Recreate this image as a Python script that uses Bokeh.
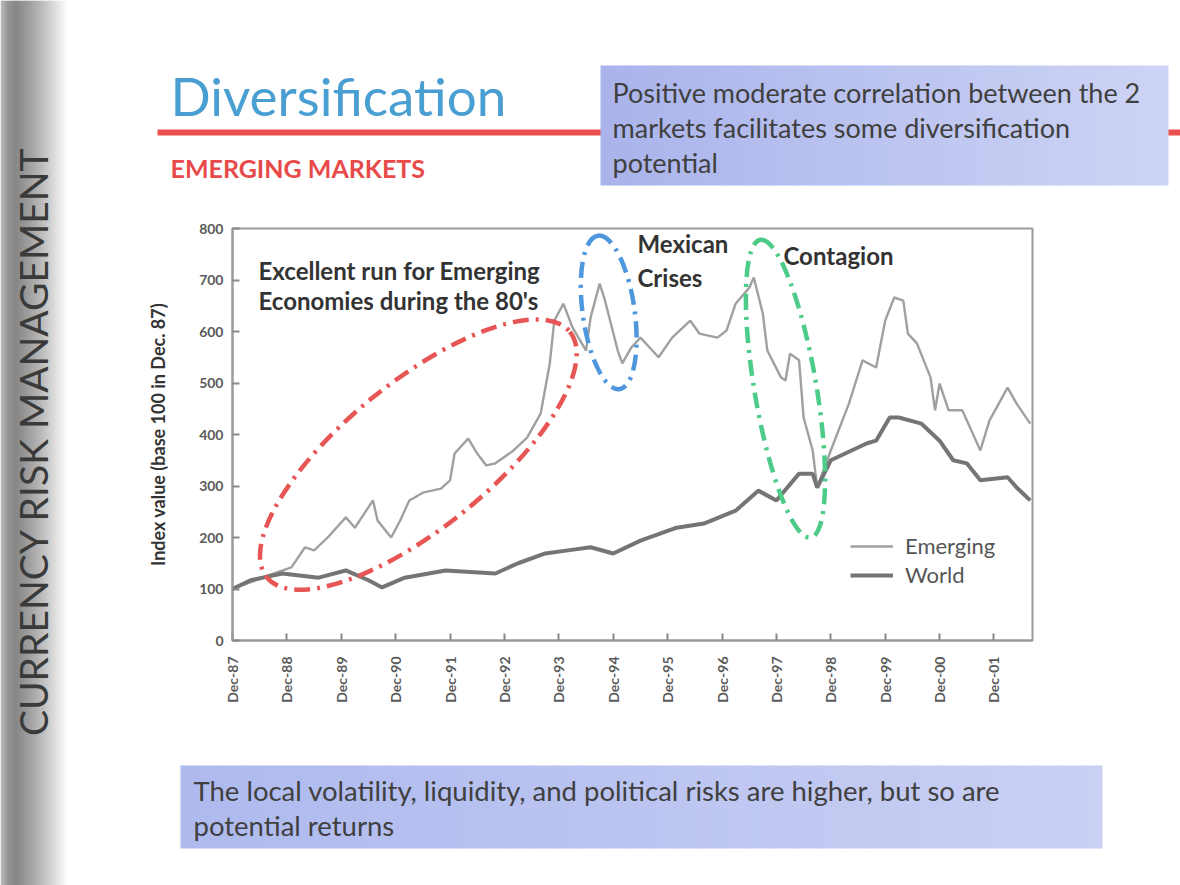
import math
from bokeh.plotting import figure
from bokeh.models import (Label, FixedTicker, Legend, LegendItem, Range1d, ColumnDataSource)
from bokeh.layouts import row, column
from bokeh.embed import file_html
from bokeh.resources import INLINE

# ---------------- data ----------------
emerging_dates = ["1987-12", "1988-09", "1989-01", "1989-04", "1989-06", "1989-09",
                  "1990-01", "1990-03", "1990-07", "1990-08", "1990-11", "1991-01",
                  "1991-03", "1991-06", "1991-10", "1991-12", "1992-01", "1992-04",
                  "1992-06", "1992-08", "1992-10", "1993-02", "1993-05", "1993-08",
                  "1993-10", "1993-11", "1994-01", "1994-03", "1994-06", "1994-07",
                  "1994-09", "1994-10", "1995-01", "1995-02", "1995-04", "1995-06",
                  "1995-10", "1996-01", "1996-05", "1996-07", "1996-11", "1997-01",
                  "1997-03", "1997-06", "1997-07", "1997-09", "1997-10", "1998-01",
                  "1998-02", "1998-03", "1998-05", "1998-06", "1998-08", "1998-09",
                  "1998-12", "1999-04", "1999-07", "1999-10", "1999-12", "2000-02",
                  "2000-04", "2000-05", "2000-07", "2000-10", "2000-11", "2000-12",
                  "2001-02", "2001-05", "2001-09", "2001-11", "2002-03", "2002-05",
                  "2002-08"]
emerging_values = [100, 130, 142, 181, 175, 200,
                   239, 219, 272, 233, 200, 233,
                   272, 287, 295, 311, 363, 392,
                   363, 340, 344, 369, 394, 441,
                   538, 621, 654, 608, 563, 627,
                   693, 666, 563, 538, 569, 588,
                   550, 588, 621, 596, 588, 602,
                   654, 685, 705, 635, 563, 511,
                   505, 557, 544, 433, 369, 297,
                   369, 460, 544, 530, 621, 666,
                   660, 596, 577, 511, 447, 499,
                   447, 447, 369, 427, 491, 460,
                   421]

world_dates = ["1987-12", "1988-04", "1988-11", "1989-07", "1990-01", "1990-06",
               "1990-09", "1991-02", "1991-11", "1992-10", "1993-03", "1993-09",
               "1994-02", "1994-07", "1994-12", "1995-06", "1996-02", "1996-08",
               "1997-03", "1997-08", "1997-12", "1998-05", "1998-08", "1998-09",
               "1998-12", "1999-08", "1999-10", "2000-01", "2000-03", "2000-08",
               "2000-12", "2001-03", "2001-06", "2001-09", "2002-03", "2002-05",
               "2002-08"]
world_values = [100, 117, 130, 122, 136, 117,
                103, 122, 136, 130, 150, 169,
                175, 181, 169, 194, 219, 227,
                252, 291, 272, 324, 324, 297,
                350, 383, 388, 433, 433, 421,
                388, 350, 344, 311, 317, 297,
                272]

tick_labels = ["Dec-87", "Dec-88", "Dec-89", "Dec-90", "Dec-91", "Dec-92", "Dec-93",
               "Dec-94", "Dec-95", "Dec-96", "Dec-97", "Dec-98", "Dec-99", "Dec-00",
               "Dec-01"]
y_ticks = [0, 100, 200, 300, 400, 500, 600, 700, 800]

# annotation ellipses: (centre date, centre value)
ellipse_centres = {"red": ("1991-05", 361), "blue": ("1994-11", 637), "green": ("1998-02", 489)}


def months(d):
    y, m = d.split("-")
    return (int(y) - 1987) * 12 + int(m) - 12


FONT = "Lato"
PAGE_W, PAGE_H = 1180, 885
LEFT_W = 70
TOP_H, CHART_H = 195, 560
BOT_H = PAGE_H - TOP_H - CHART_H
MAIN_W = PAGE_W - LEFT_W


def lerp(c1, c2, t):
    return "#%02x%02x%02x" % tuple(int(round(a + (b - a) * t)) for a, b in zip(c1, c2))


def deco_figure(w, h):
    f = figure(width=w, height=h, output_backend="svg", toolbar_location=None,
               x_range=Range1d(0, w), y_range=Range1d(h, 0),
               x_axis_type=None, y_axis_type=None, min_border=0, frame_align=False)
    f.grid.visible = False
    f.outline_line_color = None
    f.background_fill_color = "white"
    f.border_fill_color = "white"
    return f


def text(f, x, y, t, size, color="#333333", style="normal", align="left", angle=0.0):
    f.add_layout(Label(x=x, y=y, text=t, text_font=FONT, text_font_size=f"{size}px",
                       text_color=color, text_font_style=style, text_align=align,
                       text_baseline="middle", angle=angle))


def gradient_box(f, l, t, r, b, c1, c2, step=6):
    lefts = list(range(l, r, step))
    f.quad(left=lefts, right=[min(x + step + 1, r) for x in lefts], top=t, bottom=b,
           fill_color=[lerp(c1, c2, (x - l) / (r - l)) for x in lefts], line_color=None)


# ---------------- left grey strip ----------------
left = deco_figure(LEFT_W, PAGE_H)
xs = list(range(0, LEFT_W, 2))
cols = []
for x in xs:
    if x < 6:
        cols.append(lerp((185, 185, 185), (150, 150, 150), x / 6))
    elif x < 14:
        cols.append(lerp((150, 150, 150), (135, 135, 135), (x - 6) / 8))
    else:
        cols.append(lerp((135, 135, 135), (255, 255, 255), min(1.0, (x - 14) / 52) ** 1.2))
left.quad(left=xs, right=[x + 3 for x in xs], top=0, bottom=PAGE_H, fill_color=cols,
          line_color=None)
text(left, 32, 441, "CURRENCY RISK MANAGEMENT", 39, color="#3a3a3a", align="center",
     angle=math.pi / 2)

# ---------------- top band ----------------
top = deco_figure(MAIN_W, TOP_H)
ox = LEFT_W
text(top, 170 - ox, 95, "Diversification", 53, color="#4a9fd2")
top.quad(left=157 - ox, right=MAIN_W, top=129, bottom=135, fill_color="#ea5050",
         line_color=None)
text(top, 170 - ox, 167, "EMERGING MARKETS", 25, color="#e84a4a", style="bold")
gradient_box(top, 600 - ox, 65, 1168 - ox, 185, (170, 180, 235), (206, 212, 245))
for k, line in enumerate(["Positive moderate correlation between the 2",
                          "markets facilitates some diversification",
                          "potential"]):
    text(top, 612 - ox, 92 + 35 * k, line, 27, color="#404040")

# ---------------- bottom band ----------------
oy = TOP_H + CHART_H
bot = deco_figure(MAIN_W, BOT_H)
gradient_box(bot, 180 - ox, 765 - oy, 1102 - ox, 848 - oy, (174, 186, 238), (202, 208, 244))
for k, line in enumerate(["The local volatility, liquidity, and political risks  are higher, but so are",
                          "potential returns"]):
    text(bot, 193 - ox, 790 - oy + 35 * k, line, 27.5, color="#404040")

# ---------------- chart ----------------
FL, FT, FW, FH = 232 - ox, 228 - TOP_H, 800, 412
p = figure(width=MAIN_W, height=CHART_H, output_backend="svg", toolbar_location=None,
           x_range=Range1d(0, 176.5), y_range=Range1d(0, 800), frame_align=False,
           min_border_left=FL, min_border_top=FT,
           min_border_right=MAIN_W - FL - FW, min_border_bottom=CHART_H - FT - FH)
p.background_fill_color = "white"
p.border_fill_color = "white"
p.outline_line_color = "#9a9a9a"
p.outline_line_width = 2
p.grid.visible = False

src_e = ColumnDataSource(dict(x=[months(d) for d in emerging_dates], y=emerging_values))
src_w = ColumnDataSource(dict(x=[months(d) for d in world_dates], y=world_values))
r_e = p.line("x", "y", source=src_e, line_color="#a0a0a0", line_width=2.4)
r_w = p.line("x", "y", source=src_w, line_color="#757575", line_width=4)

ell_style = {"red": ("#e85555", 390, 146, 39), "blue": ("#4f97dd", 155, 52, 98),
             "green": ("#4ccc88", 302, 62, 99.6)}
for name, (d, v) in ellipse_centres.items():
    col, ew, eh, ang = ell_style[name]
    p.ellipse(x=[months(d)], y=[v], width=ew, height=eh, width_units="screen",
              height_units="screen", angle=math.radians(ang), fill_color=None,
              line_color=col, line_width=4.5, line_dash="16 7 3 7")

p.xaxis.ticker = FixedTicker(ticks=[12 * i for i in range(len(tick_labels))])
p.xaxis.major_label_overrides = {12 * i: t for i, t in enumerate(tick_labels)}
p.xaxis.major_label_orientation = math.pi / 2
p.xaxis.major_label_standoff = 16
p.yaxis.major_label_standoff = 9
p.yaxis.ticker = FixedTicker(ticks=y_ticks)
for ax in (p.xaxis[0], p.yaxis[0]):
    ax.axis_line_color = "#9a9a9a"
    ax.axis_line_width = 2
    ax.major_tick_in = 7
    ax.major_tick_out = 0
    ax.major_tick_line_color = "#888888"
    ax.major_tick_line_width = 2
    ax.minor_tick_line_color = None
    ax.major_label_text_font = FONT
    ax.major_label_text_font_style = "bold"
    ax.major_label_text_color = "#5a5a5a"
p.xaxis.major_label_text_font_size = "14px"
p.yaxis.major_label_text_font_size = "14px"
p.yaxis.axis_label = "Index value (base 100 in Dec. 87)"
p.yaxis.axis_label_text_font = FONT
p.yaxis.axis_label_text_font_size = "18px"
p.yaxis.axis_label_text_font_style = "bold"
p.yaxis.axis_label_text_color = "#333333"
p.yaxis.axis_label_standoff = 27


def ctext(x, y, t, size=24):
    p.add_layout(Label(x=x - ox, y=y - TOP_H, x_units="canvas", y_units="canvas", text=t,
                       text_font=FONT, text_font_size=f"{size}px", text_color="#333333",
                       text_font_style="bold", text_baseline="middle"))


ctext(258, 270, "Excellent run for Emerging")
ctext(258, 300, "Economies during the 80's")
ctext(637, 243, "Mexican")
ctext(637, 277, "Crises")
ctext(783, 255, "Contagion")

legend = Legend(items=[LegendItem(label="Emerging", renderers=[r_e]),
                       LegendItem(label="World", renderers=[r_w])],
                location=(618, 52), border_line_color=None, background_fill_alpha=0,
                padding=0, label_text_font=FONT, label_text_font_size="22px",
                label_text_color="#555555", glyph_width=43, glyph_height=20,
                label_height=20, label_standoff=12, spacing=2)
p.add_layout(legend)

layout = row(left, column(top, p, bot, spacing=0), spacing=0)
open("out.html", "w").write(file_html(layout, INLINE))
